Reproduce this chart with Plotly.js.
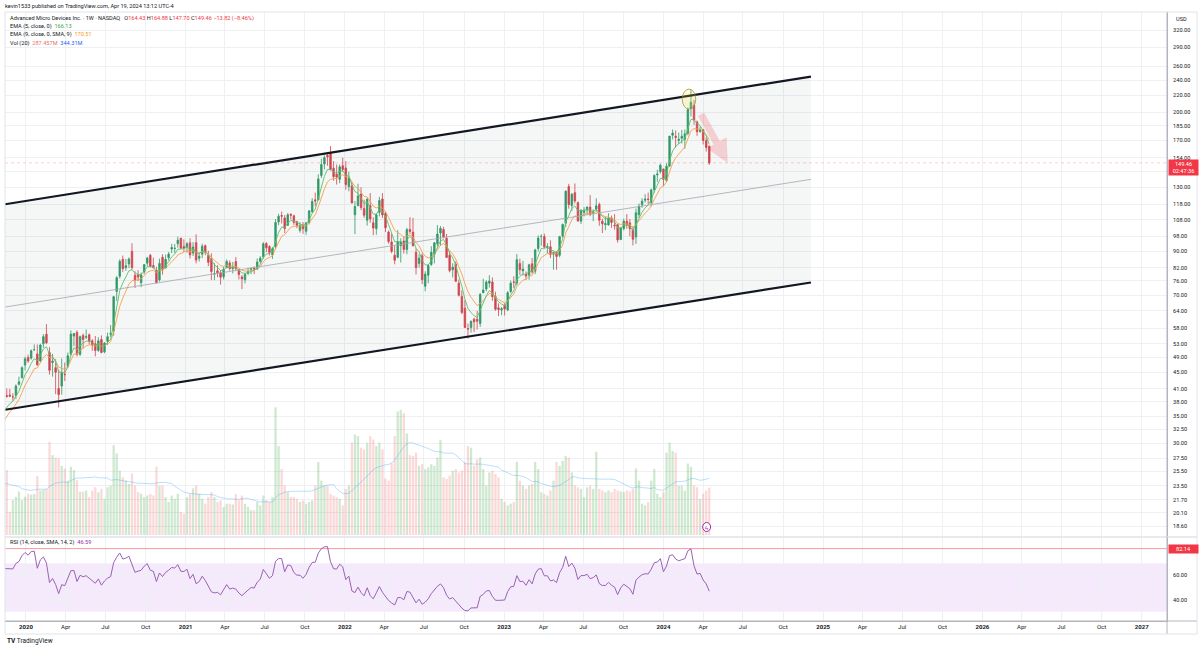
<!DOCTYPE html>
<html>
<head>
<meta charset="utf-8">
<script src="https://cdn.plot.ly/plotly-3.0.1.min.js"></script>
<style>
html,body{margin:0;padding:0;background:#ffffff;overflow:hidden;}
#chart{width:1200px;height:648px;}
</style>
</head>
<body>
<div id="chart"></div>
<script>
// ---------------- DATA (AMD weekly) ----------------
const weeks = [
'2019-06-03','2019-06-10','2019-06-17','2019-06-24','2019-07-01','2019-07-08','2019-07-15','2019-07-22','2019-07-29','2019-08-05','2019-08-12','2019-08-19','2019-08-26','2019-09-02','2019-09-09','2019-09-16','2019-09-23','2019-09-30','2019-10-07','2019-10-14','2019-10-21','2019-10-28','2019-11-04','2019-11-11','2019-11-18','2019-11-25','2019-12-02','2019-12-09','2019-12-16','2019-12-23','2019-12-30',
'2020-01-06','2020-01-13','2020-01-20','2020-01-27','2020-02-03','2020-02-10','2020-02-17','2020-02-24','2020-03-02','2020-03-09','2020-03-16','2020-03-23','2020-03-30','2020-04-06','2020-04-13','2020-04-20','2020-04-27','2020-05-04','2020-05-11','2020-05-18','2020-05-25','2020-06-01','2020-06-08','2020-06-15','2020-06-22','2020-06-29','2020-07-06','2020-07-13','2020-07-20','2020-07-27','2020-08-03','2020-08-10','2020-08-17','2020-08-24','2020-08-31','2020-09-07','2020-09-14','2020-09-21','2020-09-28','2020-10-05','2020-10-12','2020-10-19','2020-10-26','2020-11-02','2020-11-09','2020-11-16','2020-11-23','2020-11-30','2020-12-07','2020-12-14','2020-12-21','2020-12-28',
'2021-01-04','2021-01-11','2021-01-18','2021-01-25','2021-02-01','2021-02-08','2021-02-15','2021-02-22','2021-03-01','2021-03-08','2021-03-15','2021-03-22','2021-03-29','2021-04-05','2021-04-12','2021-04-19','2021-04-26','2021-05-03','2021-05-10','2021-05-17','2021-05-24','2021-05-31','2021-06-07','2021-06-14','2021-06-21','2021-06-28','2021-07-05','2021-07-12','2021-07-19','2021-07-26','2021-08-02','2021-08-09','2021-08-16','2021-08-23','2021-08-30','2021-09-06','2021-09-13','2021-09-20','2021-09-27','2021-10-04','2021-10-11','2021-10-18','2021-10-25','2021-11-01','2021-11-08','2021-11-15','2021-11-22','2021-11-29','2021-12-06','2021-12-13','2021-12-20','2021-12-27',
'2022-01-03','2022-01-10','2022-01-17','2022-01-24','2022-01-31','2022-02-07','2022-02-14','2022-02-21','2022-02-28','2022-03-07','2022-03-14','2022-03-21','2022-03-28','2022-04-04','2022-04-11','2022-04-18','2022-04-25','2022-05-02','2022-05-09','2022-05-16','2022-05-23','2022-05-30','2022-06-06','2022-06-13','2022-06-20','2022-06-27','2022-07-04','2022-07-11','2022-07-18','2022-07-25','2022-08-01','2022-08-08','2022-08-15','2022-08-22','2022-08-29','2022-09-05','2022-09-12','2022-09-19','2022-09-26','2022-10-03','2022-10-10','2022-10-17','2022-10-24','2022-10-31','2022-11-07','2022-11-14','2022-11-21','2022-11-28','2022-12-05','2022-12-12','2022-12-19','2022-12-26',
'2023-01-02','2023-01-09','2023-01-16','2023-01-23','2023-01-30','2023-02-06','2023-02-13','2023-02-20','2023-02-27','2023-03-06','2023-03-13','2023-03-20','2023-03-27','2023-04-03','2023-04-10','2023-04-17','2023-04-24','2023-05-01','2023-05-08','2023-05-15','2023-05-22','2023-05-29','2023-06-05','2023-06-12','2023-06-19','2023-06-26','2023-07-03','2023-07-10','2023-07-17','2023-07-24','2023-07-31','2023-08-07','2023-08-14','2023-08-21','2023-08-28','2023-09-04','2023-09-11','2023-09-18','2023-09-25','2023-10-02','2023-10-09','2023-10-16','2023-10-23','2023-10-30','2023-11-06','2023-11-13','2023-11-20','2023-11-27','2023-12-04','2023-12-11','2023-12-18','2023-12-25',
'2024-01-01','2024-01-08','2024-01-15','2024-01-22','2024-01-29','2024-02-05','2024-02-12','2024-02-19','2024-02-26','2024-03-04','2024-03-11','2024-03-18','2024-03-25','2024-04-01','2024-04-08','2024-04-15'
];
const opens = [
27.5,32.3,32.8,30.1,30.8,31.6,33.9,33.2,34.0,29.8,33.9,31.0,29.3,31.1,30.6,30.1,29.9,29.0,29.1,30.2,31.8,32.8,35.0,36.6,39.4,39.5,39.1,39.4,42.0,43.6,46.9,
49.0,48.8,51.2,50.0,48.0,53.0,56.0,50.4,47.6,46.2,41.0,41.6,44.5,46.6,50.0,55.4,56.6,49.9,55.6,55.0,55.8,53.9,53.0,51.0,54.3,50.6,53.8,56.0,57.0,71.5,78.0,86.0,81.9,83.7,90.0,78.5,78.6,75.2,80.0,84.1,88.0,83.0,80.7,76.4,87.0,81.8,86.8,91.2,91.5,94.0,97.0,92.5,
92.1,94.5,89.1,94.6,86.5,88.5,93.0,88.0,86.0,79.0,80.5,79.6,77.8,82.0,84.2,81.5,84.9,81.0,77.7,76.5,79.4,81.2,81.7,81.3,85.0,87.2,94.1,92.5,88.2,92.5,106.5,110.5,109.0,104.5,111.2,110.3,106.7,101.5,104.5,101.0,106.2,113.0,120.9,121.0,139.0,148.5,156.0,158.0,145.0,140.0,136.0,147.0,
145.1,130.5,131.0,111.0,117.0,125.0,115.0,107.6,117.0,106.0,102.5,112.5,121.5,112.0,100.5,95.0,88.0,87.0,93.0,95.5,91.0,102.0,100.5,89.5,84.0,87.8,73.7,78.5,83.5,88.5,94.0,100.0,102.0,97.0,88.0,81.0,83.7,75.0,69.5,65.0,57.8,58.2,61.0,61.0,59.5,71.0,72.5,75.0,75.5,69.5,65.1,64.3,
66.0,64.3,71.5,75.5,75.0,83.9,80.5,79.0,78.5,83.8,80.3,91.5,98.0,98.0,92.0,92.4,88.5,89.5,88.0,98.2,105.8,130.5,117.0,126.0,119.0,107.0,112.5,114.0,116.0,112.0,114.5,117.8,107.0,104.8,104.7,109.0,104.5,104.8,96.3,102.5,107.0,106.0,101.8,97.7,111.0,117.5,120.6,121.5,119.0,128.0,139.5,142.0,
144.3,135.0,147.0,175.0,174.0,170.0,172.0,171.0,177.0,204.0,208.0,189.0,179.0,180.7,170.0,164.43
];
const highs = [
32.7,33.5,33.0,31.2,31.9,34.3,34.6,34.1,35.5,34.8,34.0,32.3,31.6,31.5,31.3,31.4,31.0,29.9,30.4,32.2,33.0,35.2,36.9,40.0,41.0,40.9,39.9,42.0,43.9,46.6,49.2,
49.8,51.3,52.8,52.8,53.0,56.0,59.3,52.0,50.0,48.5,45.7,48.7,47.6,50.4,57.2,56.4,57.2,55.5,56.2,57.5,56.2,54.4,55.4,55.0,55.6,53.5,56.5,59.0,69.7,78.1,86.0,87.8,86.2,86.9,94.3,80.3,80.8,79.7,83.7,87.2,88.7,86.8,82.4,86.3,88.5,88.3,89.7,94.0,93.9,97.9,97.3,96.4,
95.0,97.0,94.9,99.2,89.4,94.0,93.6,90.3,89.0,84.1,83.1,80.8,82.3,85.9,85.4,84.7,87.1,81.4,78.6,79.6,81.9,82.0,82.6,86.4,87.6,94.9,95.0,93.2,92.2,108.3,111.6,113.0,110.8,112.0,112.0,111.0,107.2,106.4,106.5,106.2,114.0,122.0,126.0,140.0,153.0,156.0,158.0,164.5,151.0,148.0,148.0,154.0,
151.0,142.0,134.0,120.0,132.6,130.0,121.0,122.2,125.7,109.5,112.0,123.0,125.7,113.0,101.5,99.5,93.0,101.5,97.0,98.0,103.0,109.5,109.0,91.5,88.5,89.0,80.3,83.7,92.7,94.9,104.6,104.0,103.6,99.4,90.0,84.1,85.0,76.6,72.0,68.0,59.5,60.5,61.5,64.0,70.9,76.9,76.2,78.5,77.5,71.4,66.8,65.4,
66.9,71.7,76.1,78.0,88.6,86.3,85.2,80.2,83.8,86.6,91.4,98.6,99.3,99.6,94.3,95.9,89.9,90.0,98.4,105.6,127.7,132.5,125.6,132.8,119.7,114.5,116.0,116.4,124.2,114.5,122.0,119.0,108.5,109.9,112.0,110.5,111.4,105.5,103.4,108.5,111.4,108.3,104.0,115.0,118.4,122.0,124.9,126.0,129.0,140.0,143.6,148.7,
144.5,149.0,174.3,181.0,180.0,177.8,180.5,181.0,205.0,227.3,214.5,190.5,184.0,181.0,173.0,164.88
];
const lows = [
27.3,31.6,29.8,28.9,30.4,31.4,32.5,32.5,29.6,28.8,29.9,28.6,28.9,29.3,29.6,29.7,28.4,27.4,28.1,30.1,31.4,32.1,34.8,36.5,38.9,39.2,38.2,38.6,41.7,43.5,45.5,
47.5,48.4,50.9,46.7,47.8,51.8,52.9,44.4,43.9,39.7,36.8,39.6,42.8,46.2,49.5,52.3,49.3,49.4,51.6,54.4,52.8,50.9,49.3,50.6,50.2,50.2,52.6,55.0,55.5,67.7,77.0,79.9,80.5,81.8,81.0,73.0,75.9,73.3,79.0,82.6,82.0,81.5,74.8,75.7,78.8,81.5,85.5,89.1,89.2,91.9,91.0,89.8,
89.3,86.4,87.6,84.0,84.9,86.6,88.0,82.7,76.3,76.3,77.6,74.4,76.6,81.7,80.6,79.3,80.4,76.6,72.5,74.9,78.5,79.0,79.0,80.9,84.0,86.3,89.5,87.9,86.2,91.2,104.6,105.6,100.0,104.3,108.1,104.7,102.8,100.2,99.5,99.0,105.0,112.0,116.5,120.5,137.0,144.0,147.0,143.0,135.0,132.0,133.0,142.0,
128.1,127.0,118.5,99.4,116.5,114.0,109.0,104.3,106.0,98.8,99.0,110.0,109.0,100.5,94.0,89.0,83.6,86.5,84.4,88.9,88.5,99.5,92.5,78.8,82.0,74.6,71.6,75.0,82.8,84.0,92.5,93.0,97.0,86.8,79.8,77.5,75.5,69.5,62.8,58.0,54.6,56.5,56.7,57.5,58.4,70.8,71.6,73.1,67.8,64.0,62.1,62.4,
62.3,63.9,70.8,73.0,74.0,78.6,78.3,76.5,76.5,79.2,79.0,90.0,92.9,91.4,88.9,86.6,81.0,81.0,87.0,97.4,103.5,114.9,113.4,118.5,106.5,105.2,110.0,111.0,110.0,107.0,113.0,104.2,100.0,101.6,104.3,103.0,101.9,94.6,96.0,101.5,102.5,98.1,93.1,93.9,109.0,115.5,119.0,118.0,116.5,126.0,134.0,140.5,
130.7,134.0,146.0,171.0,163.0,166.5,167.0,162.0,175.0,195.0,185.9,174.5,177.5,166.0,159.5,147.70
];
const closes = [
32.4,32.9,30.0,30.4,31.5,33.8,33.1,33.9,30.4,34.0,30.9,28.9,31.4,30.6,30.2,29.9,28.9,29.4,29.8,31.8,32.7,34.9,36.5,39.2,39.2,39.2,39.1,41.6,42.6,46.2,48.6,
48.0,50.9,51.2,47.0,52.6,55.2,53.3,45.5,48.0,45.0,39.6,45.0,44.4,49.5,56.0,56.2,49.9,55.2,54.3,55.2,53.8,52.6,51.0,53.9,50.4,53.2,55.2,56.2,69.4,77.4,85.0,81.5,82.9,86.1,82.0,76.3,77.7,78.6,83.4,86.6,82.7,82.0,75.3,84.0,81.4,86.0,88.6,92.0,91.6,95.9,91.8,91.7,
94.0,88.2,92.3,85.6,87.5,92.7,89.6,84.5,80.2,79.2,79.6,77.6,81.2,84.9,81.6,82.3,81.6,78.8,76.9,78.8,80.1,81.6,81.3,84.7,86.5,94.0,91.9,89.5,91.4,106.2,110.0,110.1,102.6,111.0,110.7,106.2,104.4,104.5,102.5,106.0,113.5,119.8,120.2,136.3,148.0,154.0,154.8,144.0,138.1,137.8,146.1,143.9,
132.0,137.0,118.8,116.4,123.6,115.7,110.7,121.3,108.4,102.9,111.0,120.4,110.9,103.0,95.2,90.0,85.5,95.1,95.1,91.0,101.9,100.9,93.0,82.0,86.5,76.5,79.0,83.0,89.5,94.5,99.4,102.7,97.8,86.9,80.6,82.2,75.8,70.0,63.4,58.2,57.7,60.3,60.1,60.3,70.3,72.1,75.5,75.9,69.4,64.6,64.5,64.8,
64.7,71.0,75.0,75.4,85.8,81.0,81.3,78.1,83.3,80.0,90.7,97.1,98.0,92.4,92.5,88.4,89.4,87.4,97.9,105.0,127.0,117.6,124.9,120.1,107.2,113.9,113.9,116.0,111.3,112.9,116.8,107.6,105.4,105.5,109.0,106.2,104.2,96.1,102.8,107.0,105.0,102.5,96.4,112.3,116.6,120.0,121.4,121.2,128.0,139.0,140.2,147.4,
136.0,146.6,174.2,177.3,172.9,171.0,174.0,176.5,202.6,211.4,191.1,178.7,180.5,169.9,163.3,149.46
];
// weekly volume, millions
const volumesM = [
420,330,320,300,190,300,280,250,420,480,350,300,260,240,260,250,270,280,240,260,270,420,340,420,394,141,212,232,263,212,232,
250,245,250,357,270,275,280,565,485,470,465,420,404,330,414,394,333,263,263,270,230,270,290,260,280,220,290,300,545,495,390,350,330,310,374,300,260,250,230,240,250,240,414,300,300,230,200,240,220,250,140,130,
230,250,283,300,250,220,190,230,260,230,200,210,170,190,190,185,250,210,240,190,170,150,150,200,180,240,210,200,230,775,540,400,300,260,230,230,220,200,210,190,200,210,300,444,330,300,300,250,240,230,220,180,
280,300,560,610,600,530,520,560,600,580,540,560,520,343,330,434,600,750,760,740,616,485,480,500,420,430,400,410,430,420,470,575,350,340,360,390,400,380,390,440,540,530,420,460,470,400,300,380,390,370,350,220,
200,180,190,200,444,330,300,280,300,310,444,400,260,250,240,270,330,444,420,450,480,470,380,300,290,280,230,290,300,280,505,280,270,260,270,260,280,270,265,260,270,265,280,404,330,190,180,200,330,400,250,230,
260,500,560,510,500,300,300,270,434,414,300,290,220,250,270,287.457
];

// price scale ticks (log scale, right side); 142 sits under the last-price label
const priceTicks = [18.6,20.1,21.7,23.5,25.5,27.5,30,32.5,35,38,41,45,49,53,58,64,70,76,82,90,98,108,118,130,142,154,170,185,200,220,240,260,290,320];
const priceTickText = ['18.60','20.10','21.70','23.50','25.50','27.50','30.00','32.50','35.00','38.00','41.00','45.00','49.00','53.00','58.00','64.00','70.00','76.00','82.00','90.00','98.00','108.00','118.00','130.00','','154.00','170.00','185.00','200.00','220.00','240.00','260.00','290.00','320.00'];
// time axis ticks
const xTickVals = ['2020-01-01','2020-04-01','2020-07-01','2020-10-01','2021-01-01','2021-04-01','2021-07-01','2021-10-01','2022-01-01','2022-04-01','2022-07-01','2022-10-01','2023-01-01','2023-04-01','2023-07-01','2023-10-01','2024-01-01','2024-04-01','2024-07-01','2024-10-01','2025-01-01','2025-04-01','2025-07-01','2025-10-01','2026-01-01','2026-04-01','2026-07-01','2026-10-01','2027-01-01'];
const xTickText = ['<b>2020</b>','Apr','Jul','Oct','<b>2021</b>','Apr','Jul','Oct','<b>2022</b>','Apr','Jul','Oct','<b>2023</b>','Apr','Jul','Oct','<b>2024</b>','Apr','Jul','Oct','<b>2025</b>','Apr','Jul','Oct','<b>2026</b>','Apr','Jul','Oct','<b>2027</b>'];

// user drawings: parallel channel (dates / prices of the two anchor points)
const channelDates = ['2019-11-14','2024-12-04'];
const channelUpper = [117.9, 245.1];
const channelMiddle = [65.4, 136.0];
const channelLower = [36.3, 75.3];
const rsiLevel = 82.14;
const rsiBand = [30, 70];
const peakEllipseDates = ['2024-02-13','2024-03-15'];
const peakEllipsePrices = [203.3, 228.1];
const arrowHead = {date:'2024-05-27', price:149.6};

// legend values shown in the header
const legendOHLC = {o:'164.43', h:'164.88', l:'147.70', c:'149.46', chg:'−13.82 (−8.46%)'};
const legendEma5 = '166.13', legendEma9 = '170.51', legendVol = '287.457M', legendVolMa = '344.31M', legendRsi = '46.59';

// ---------------- indicators ----------------
function emaCalc(src, n){
  const a = 2/(n+1), out = new Array(src.length).fill(null); let s = 0;
  for(let i=0;i<src.length;i++){
    if(i < n-1){ s += src[i]; continue; }
    if(i === n-1){ s += src[i]; out[i] = s/n; continue; }
    out[i] = a*src[i] + (1-a)*out[i-1];
  }
  return out;
}
function smaCalc(src, n){
  const out = new Array(src.length).fill(null); let s = 0;
  for(let i=0;i<src.length;i++){ s += src[i]; if(i>=n) s -= src[i-n]; if(i>=n-1) out[i] = s/n; }
  return out;
}
function rsiCalc(src, n){
  const out = new Array(src.length).fill(null); let up=0, dn=0;
  for(let i=1;i<src.length;i++){
    const ch = src[i]-src[i-1], u = Math.max(ch,0), d = Math.max(-ch,0);
    if(i<=n){ up+=u; dn+=d; if(i===n){ up/=n; dn/=n; out[i] = dn===0?100:100-100/(1+up/dn);} }
    else { up=(up*(n-1)+u)/n; dn=(dn*(n-1)+d)/n; out[i] = dn===0?100:100-100/(1+up/dn); }
  }
  return out;
}
const ema5 = emaCalc(closes, 5);
const ema9 = emaCalc(closes, 9);
const volMa = smaCalc(volumesM, 20);
const rsi = rsiCalc(closes, 14);

// ---------------- geometry helpers (pixel -> paper) ----------------
const PL = 5, PR = 1167, PT = 12, PB = 621;
const px = x => (x-PL)/(PR-PL);
const py = y => (PB-y)/(PB-PT);
const FONT = 'Roboto, "Liberation Sans", Arial, sans-serif';
const UP = '#2b9b66', DN = '#d9404a';
const TXT = '#131722';

const volColors = closes.map((c,i)=> c >= opens[i] ? 'rgba(76,175,80,0.27)' : 'rgba(239,83,80,0.22)');
const lastClose = closes[closes.length-1];

const traces = [
  {type:'scatter', mode:'lines', x:[channelDates[0],channelDates[1],channelDates[1],channelDates[0],channelDates[0]],
   y:[channelUpper[0],channelUpper[1],channelLower[1],channelLower[0],channelUpper[0]],
   fill:'toself', fillcolor:'rgba(120,123,134,0.07)', line:{width:0}, hoverinfo:'skip', xaxis:'x', yaxis:'y'},
  {type:'candlestick', x:weeks, open:opens, high:highs, low:lows, close:closes, xaxis:'x', yaxis:'y',
   increasing:{line:{color:UP, width:0.8}, fillcolor:UP}, decreasing:{line:{color:DN, width:0.8}, fillcolor:DN},
   whiskerwidth:0, hoverinfo:'none'},
  {type:'scatter', mode:'lines', x:weeks, y:ema9, line:{color:'#f5a04a', width:0.9}, hoverinfo:'skip', xaxis:'x', yaxis:'y'},
  {type:'scatter', mode:'lines', x:weeks, y:ema5, line:{color:'#5cbf6b', width:0.9}, hoverinfo:'skip', xaxis:'x', yaxis:'y'},
  {type:'scatter', mode:'lines', x:channelDates, y:channelMiddle, line:{color:'#a3a6af', width:0.8}, hoverinfo:'skip', xaxis:'x', yaxis:'y'},
  {type:'scatter', mode:'lines', x:channelDates, y:channelUpper, line:{color:'#131722', width:2.2}, hoverinfo:'skip', xaxis:'x', yaxis:'y'},
  {type:'scatter', mode:'lines', x:channelDates, y:channelLower, line:{color:'#131722', width:2.2}, hoverinfo:'skip', xaxis:'x', yaxis:'y'},
  {type:'scatter', mode:'lines', x:['2019-11-14','2027-02-28'], y:[lastClose,lastClose], line:{color:'rgba(242,54,69,0.35)', width:0.7, dash:'dot'}, hoverinfo:'skip', xaxis:'x', yaxis:'y'},
  {type:'bar', x:weeks, y:volumesM, marker:{color:volColors, line:{width:0}}, hoverinfo:'skip', xaxis:'x', yaxis:'y2'},
  {type:'scatter', mode:'lines', x:weeks, y:volMa, line:{color:'rgba(33,150,243,0.3)', width:1}, hoverinfo:'skip', xaxis:'x', yaxis:'y2'},
  {type:'scatter', mode:'lines', x:weeks, y:rsi, line:{color:'#9a62b3', width:1}, hoverinfo:'skip', xaxis:'x', yaxis:'y3'}
];

function note(text, x, y, opts){
  return Object.assign({text:text, xref:'paper', yref:'paper', x:x, y:y, xanchor:'left', yanchor:'middle',
    showarrow:false, align:'left', font:{family:FONT, size:5.6, color:TXT}}, opts||{});
}
const red = s => '<span style="color:#f23645">'+s+'</span>';

const annotations = [
  note('kevin1533 published on TradingView.com, Apr 19, 2024 13:12 UTC-4', px(3), py(6)),
  note('Advanced Micro Devices Inc. \u00b7 1W \u00b7 NASDAQ\u00a0\u00a0 O'+red(legendOHLC.o)+' H'+red(legendOHLC.h)+' L'+red(legendOHLC.l)+' C'+red(legendOHLC.c)+' '+red(legendOHLC.chg), px(8), py(19)),
  note('EMA (5, close, 0)\u00a0 <span style="color:#43a047">'+legendEma5+'</span>', px(8), py(27)),
  note('EMA (9, close, 0, SMA, 9)\u00a0 <span style="color:#f59a23">'+legendEma9+'</span>', px(8), py(35)),
  note('Vol (20)\u00a0 <span style="color:#e57373">'+legendVol+'</span>\u00a0 <span style="color:#2962ff">'+legendVolMa+'</span>', px(8), py(43)),
  note('RSI (14, close, SMA, 14, 2)\u00a0 <span style="color:#9c27b0">'+legendRsi+'</span>', px(8), py(542)),
  note('USD', px(1174), py(19)),
  note('<b>TV</b> TradingView', px(5), py(641), {font:{family:FONT, size:6.5, color:TXT}}),
  {text:lastClose.toFixed(2)+'<br>02:47:36', xref:'paper', yref:'y', x:1, y:Math.log10(lastClose), xanchor:'left', yanchor:'middle',
   xshift:1, yshift:-5, showarrow:false, bgcolor:'#f23645', borderpad:1, width:27, align:'center',
   font:{family:FONT, size:5.6, color:'#ffffff'}},
  {text:rsiLevel.toFixed(2), xref:'paper', yref:'y3', x:1, y:rsiLevel, xanchor:'left', yanchor:'middle',
   xshift:1, showarrow:false, bgcolor:'#f23645', borderpad:1, width:27, align:'center',
   font:{family:FONT, size:5.6, color:'#ffffff'}},
  {text:' ', xref:'x', yref:'y', x:arrowHead.date, y:Math.log10(arrowHead.price), ax:-29, ay:-53,
   showarrow:true, arrowhead:2, arrowsize:0.65, arrowwidth:7, arrowcolor:'rgba(242,54,69,0.2)', standoff:0},
  {text:'ϟ', xref:'x', yref:'paper', x:'2024-04-09', y:py(527), xanchor:'center', yanchor:'middle', showarrow:false,
   font:{family:FONT, size:6, color:'#9c27b0'}}
];

const shapes = [
  {type:'rect', xref:'paper', yref:'y3', x0:0, x1:1, y0:rsiBand[0], y1:rsiBand[1], fillcolor:'rgba(170,90,230,0.13)', line:{width:0}, layer:'below'},
  {type:'line', xref:'paper', yref:'y3', x0:0, x1:1, y0:rsiLevel, y1:rsiLevel, line:{color:'rgba(242,54,69,0.5)', width:1}},
  {type:'line', xref:'paper', yref:'paper', x0:0, x1:px(1197), y0:py(537), y1:py(537), line:{color:'#d1d4dc', width:1}},
  {type:'line', xref:'paper', yref:'paper', x0:0, x1:px(1197), y0:0, y1:0, line:{color:'#b2b5be', width:1}},
  {type:'line', xref:'paper', yref:'paper', x0:1, x1:1, y0:py(634), y1:1, line:{color:'#b2b5be', width:1}},
  {type:'rect', xref:'paper', yref:'paper', x0:0, x1:px(1197), y0:py(634), y1:1, line:{color:'#e0e3eb', width:1}, fillcolor:'rgba(0,0,0,0)'},
  {type:'circle', xref:'x', yref:'y', x0:peakEllipseDates[0], x1:peakEllipseDates[1], y0:peakEllipsePrices[0], y1:peakEllipsePrices[1],
   fillcolor:'rgba(255,235,59,0.18)', line:{color:'rgba(150,140,40,0.9)', width:0.8}},
  {type:'circle', xref:'x', yref:'paper', x0:'2024-03-31', x1:'2024-04-18', y0:py(531.5), y1:py(522.5), fillcolor:'#ffffff', line:{color:'#9c27b0', width:1}}
];

const layout = {
  width:1200, height:648,
  margin:{l:PL, r:1200-PR, t:PT, b:648-PB, pad:0},
  paper_bgcolor:'#ffffff', plot_bgcolor:'#ffffff',
  showlegend:false, hovermode:false, bargap:0.25,
  font:{family:FONT, size:6, color:TXT},
  xaxis:{type:'date', range:['2019-11-14','2027-02-28'], anchor:'y3', tickmode:'array', tickvals:xTickVals, ticktext:xTickText,
    showgrid:true, gridcolor:'#eef0f4', gridwidth:1, ticks:'', showline:true, linecolor:'#b2b5be', linewidth:1,
    zeroline:false, rangeslider:{visible:false}, tickfont:{family:FONT, size:6, color:TXT}, fixedrange:true},
  yaxis:{type:'log', domain:[py(536),1], range:[Math.log10(17.61), Math.log10(354.8)], side:'right', anchor:'x',
    tickmode:'array', tickvals:priceTicks, ticktext:priceTickText,
    showgrid:true, gridcolor:'#eef0f4', gridwidth:1, ticks:'', showline:true, linecolor:'#b2b5be', linewidth:1,
    zeroline:false, ticklabelstandoff:4, tickfont:{family:FONT, size:5.6, color:TXT}, fixedrange:true},
  yaxis2:{overlaying:'y', range:[-6.07, 3174.6], visible:false, fixedrange:true},
  yaxis3:{domain:[0, py(538)], range:[22.3, 90.9], side:'right', anchor:'x', tickmode:'array', tickvals:[40,60], ticktext:['40.00','60.00'],
    showgrid:true, gridcolor:'#eef0f4', ticks:'', showline:true, linecolor:'#b2b5be', linewidth:1, zeroline:false,
    ticklabelstandoff:4, tickfont:{family:FONT, size:5.6, color:TXT}, fixedrange:true},
  shapes:shapes,
  annotations:annotations
};

Plotly.newPlot('chart', traces, layout, {displayModeBar:false, staticPlot:true});
</script>
</body>
</html>
